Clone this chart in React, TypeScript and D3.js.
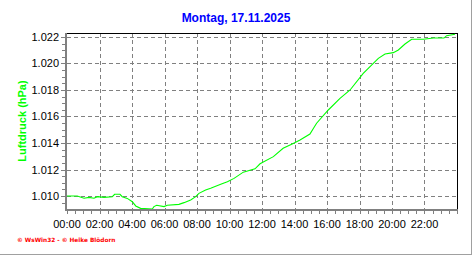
import React from "react";
import * as d3 from "d3";

const title = "Montag, 17.11.2025";
const yLabel = "Luftdruck (hPa)";
const footer = "© WsWin32 - © Heike Blödorn";

const hours = [0, 0.63, 1.05, 1.35, 1.66, 1.87, 2.28, 2.79, 2.93, 3.26, 3.4, 3.71, 4.02, 4.23, 4.53, 5.25, 5.35, 5.52, 5.97, 6.17, 6.89, 7.2, 7.61, 7.92, 8.12, 8.53, 8.84, 9.46, 9.87, 10.28, 10.85, 11.57, 11.88, 12.7, 13.3, 13.89, 14.34, 14.95, 15.16, 15.36, 16.08, 16.8, 17.42, 18.23, 19.16, 19.57, 20.08, 20.39, 20.8, 21.21, 21.93, 22.55, 23.2, 23.36, 23.88];
const pressure = [1010.0, 1010.0, 1009.83, 1009.9, 1009.83, 1009.95, 1009.9, 1009.95, 1010.13, 1010.13, 1009.95, 1009.82, 1009.57, 1009.25, 1009.07, 1009.02, 1009.2, 1009.3, 1009.2, 1009.3, 1009.37, 1009.5, 1009.7, 1009.95, 1010.2, 1010.45, 1010.58, 1010.88, 1011.08, 1011.33, 1011.8, 1012.05, 1012.43, 1012.97, 1013.6, 1013.95, 1014.23, 1014.68, 1015.1, 1015.49, 1016.49, 1017.37, 1018.0, 1019.26, 1020.39, 1020.72, 1020.82, 1021.02, 1021.47, 1021.83, 1021.83, 1021.92, 1021.92, 1022.1, 1022.2];

const yTicks = [1010, 1012, 1014, 1016, 1018, 1020, 1022];
const yTickLabels = ["1.010", "1.012", "1.014", "1.016", "1.018", "1.020", "1.022"];
const xTicks = [0, 2, 4, 6, 8, 10, 12, 14, 16, 18, 20, 22];
const xTickLabels = ["00:00", "02:00", "04:00", "06:00", "08:00", "10:00", "12:00", "14:00", "16:00", "18:00", "20:00", "22:00"];

export default function App() {
  const W = 472, H = 255;
  const left = 67, right = 457, top = 33, bottom = 209;
  const x = d3.scaleLinear().domain([0, 24]).range([left, right]);
  const y = d3.scaleLinear().domain([1009.02, 1022.3]).range([bottom, top]);
  const data = hours.map((h, i) => [h, pressure[i]] as [number, number]);
  const line = d3.line<[number, number]>().x(d => x(d[0])).y(d => y(d[1]));
  const minorY = d3.range(1009.5, 1022.3, 0.5);
  const minorX = d3.range(0, 24.01, 0.5);
  const font = "'Liberation Sans', Arial, sans-serif";
  return (
    <svg width={W} height={H} style={{ position: "absolute", left: 0, top: 0, background: "#fff" }}>
      <rect x={0} y={0} width={W} height={H} fill="#fff" />
      <g shapeRendering="crispEdges">
        <line x1={471.5} y1={0} x2={471.5} y2={254.5} stroke="#a0a0a0" />
        <line x1={0} y1={254.5} x2={471.5} y2={254.5} stroke="#a0a0a0" />
        {yTicks.map(v => (
          <line key={"gy" + v} x1={left} x2={right} y1={Math.round(y(v)) + 0.5} y2={Math.round(y(v)) + 0.5} stroke="#808080" strokeDasharray="4,3" />
        ))}
        {xTicks.filter(h => h > 0).map(h => (
          <line key={"gx" + h} x1={Math.round(x(h)) + 0.5} x2={Math.round(x(h)) + 0.5} y1={top} y2={bottom} stroke="#808080" strokeDasharray="4,3" />
        ))}
        <line x1={left} x2={right + 0.5} y1={top + 0.5} y2={top + 0.5} stroke="#000" />
        <line x1={right + 0.5} x2={right + 0.5} y1={top} y2={bottom} stroke="#000" />
      </g>
      <text x={236} y={22} textAnchor="middle" fontFamily={font} fontWeight="bold" fontSize={12} fill="#0000ff">{title}</text>
      <path d={line(data) || ""} fill="none" stroke="#00ff00" strokeWidth={1.1} />
      <g shapeRendering="crispEdges">
        {minorY.map(v => {
          const major = yTicks.indexOf(Math.round(v)) >= 0 && Math.abs(v - Math.round(v)) < 0.01;
          return <line key={"ty" + v} x1={major ? 61 : 62} x2={66} y1={Math.round(y(v)) + 0.5} y2={Math.round(y(v)) + 0.5} stroke="#808080" />;
        })}
        {minorX.map(h => (
          <line key={"tx" + h} x1={Math.round(x(h)) + 0.5} x2={Math.round(x(h)) + 0.5} y1={bottom} y2={bottom + 5} stroke="#808080" />
        ))}
        <line x1={66} x2={66} y1={top} y2={bottom + 2} stroke="#808080" strokeWidth={2} />
        <line x1={65} x2={right + 1} y1={bottom + 1} y2={bottom + 1} stroke="#808080" strokeWidth={2} />
      </g>
      {yTicks.map((v, i) => (
        <text key={"ly" + v} x={59} y={y(v) + 4} textAnchor="end" fontFamily={font} fontSize={11} fill="#000">{yTickLabels[i]}</text>
      ))}
      {xTicks.map((h, i) => (
        <text key={"lx" + h} x={x(h)} y={228} textAnchor="middle" fontFamily={font} fontSize={11} fill="#000">{xTickLabels[i]}</text>
      ))}
      <text transform={`translate(26,121) rotate(-90)`} textAnchor="middle" fontFamily={font} fontWeight="bold" fontSize={11} fill="#00ff00">{yLabel}</text>
      <text x={17} y={242} fontFamily="'DejaVu Sans', sans-serif" fontWeight="bold" fontSize={5.8} fill="#ff0000">{footer}</text>
    </svg>
  );
}
